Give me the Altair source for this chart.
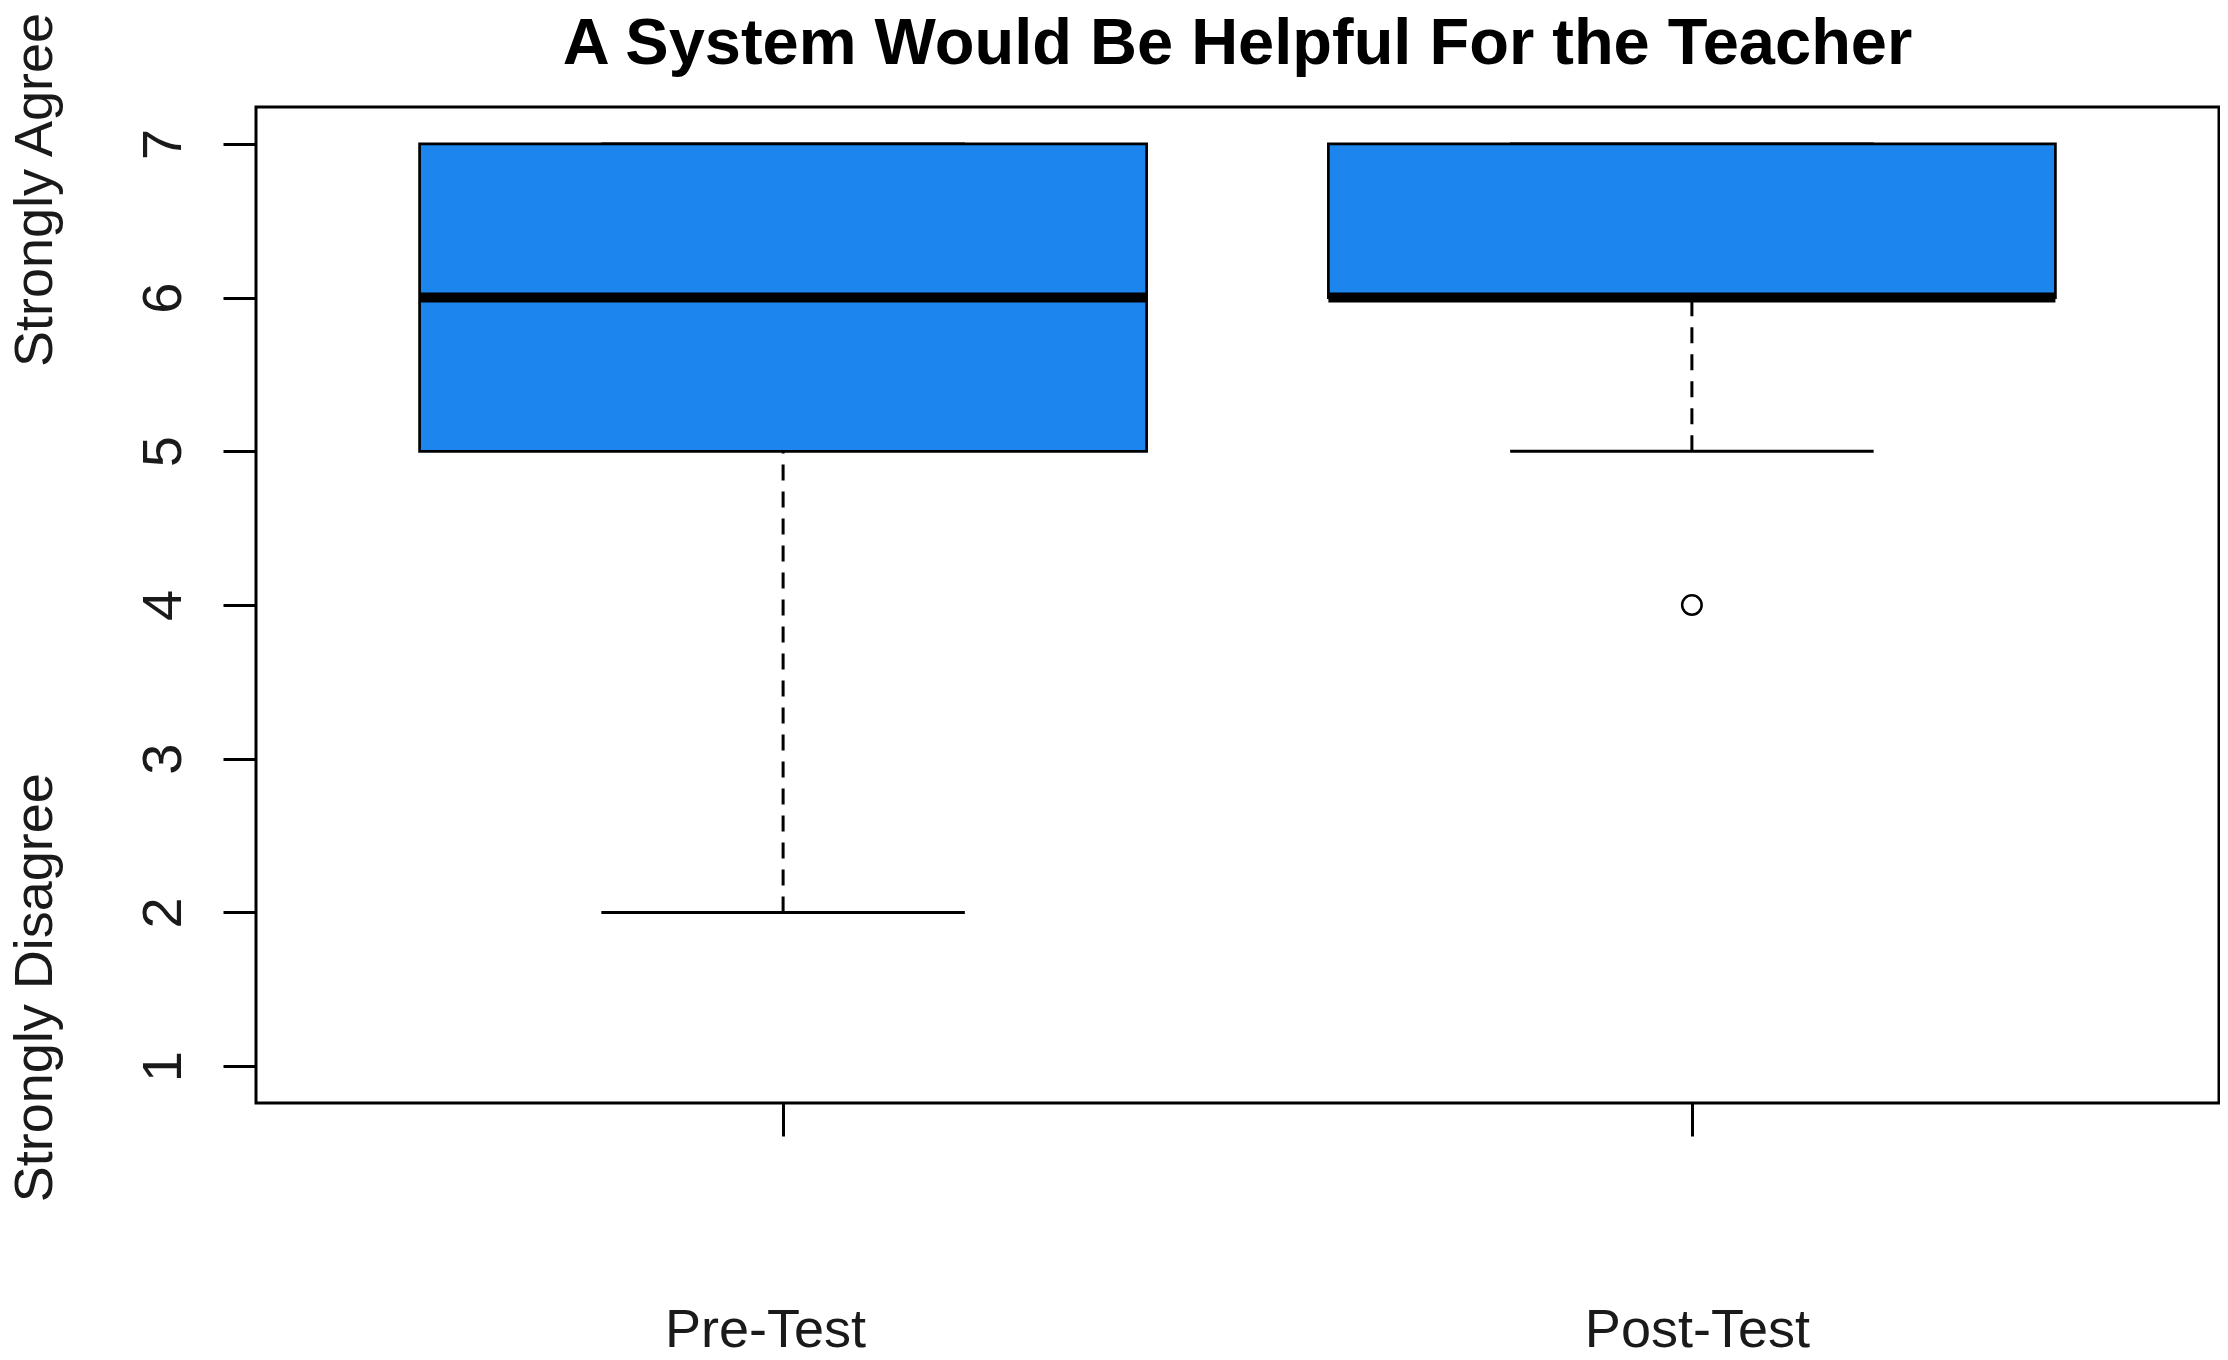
import altair as alt
import pandas as pd

# ---- data ----
title_text = "A System Would Be Helpful For the Teacher"
groups = ["Pre-Test", "Post-Test"]
positions = [1, 2]
q1 = [5, 6]
median = [6, 6]
q3 = [7, 7]
whisker_lo = [2, 5]
whisker_hi = [7, 7]

outlier_pos = [2]
outlier_val = [4]

side_labels = ["Strongly Agree", "Strongly Disagree"]
side_label_y = [6.70, 1.51]
side_label_x = [0.196, 0.196]

title_x = [1.5]
title_y = [7.517]

y_ticks = [1, 2, 3, 4, 5, 6, 7]

# ---- tables ----
boxes = pd.DataFrame({
    "group": groups, "pos": positions, "q1": q1, "med": median,
    "q3": q3, "lo": whisker_lo, "hi": whisker_hi,
})
outliers = pd.DataFrame({"pos": outlier_pos, "val": outlier_val})
sides = pd.DataFrame({"text": side_labels, "y": side_label_y, "x": side_label_x})
titles = pd.DataFrame({"text": [title_text], "x": title_x, "y": title_y})

FONT = "Liberation Sans"
BOX_HALF = 0.4
CAP_HALF = 0.2

label_expr = "[" + ",".join("'" + g + "'" for g in groups) + "][datum.value - 1]"

xscale = alt.Scale(domain=[0.42, 2.58], nice=False, zero=False)
yscale = alt.Scale(domain=[0.76, 7.24], nice=False, zero=False)

x_axis = alt.Axis(
    values=positions, labelExpr=label_expr, grid=False, domain=False,
    ticks=True, tickSize=33, tickWidth=3, tickColor="black",
    labelFontSize=54, labelFont=FONT, labelColor="#1a1a1a",
    labelPadding=210, labelBaseline="alphabetic", labelAlign="center",
    labelLimit=1000,
    labelOffset={"condition": {"test": "datum.value == 1", "value": -18}, "value": 5},
)
y_axis = alt.Axis(
    values=y_ticks, format="d", grid=False, domain=False, ticks=True, tickSize=33,
    tickWidth=3, tickColor="black", labelFontSize=56, labelFont=FONT,
    labelColor="#1a1a1a", labelAngle=270, labelAlign="center",
    labelBaseline="alphabetic", labelPadding=43, labelLimit=1000,
)

base = alt.Chart(boxes).transform_calculate(
    left=f"datum.pos - {BOX_HALF}", right=f"datum.pos + {BOX_HALF}",
    capl=f"datum.pos - {CAP_HALF}", capr=f"datum.pos + {CAP_HALF}",
)

whisk_low = base.mark_rule(color="black", strokeWidth=3, strokeDash=[16, 11]).encode(
    x=alt.X("pos:Q", scale=xscale, axis=x_axis, title=None),
    y=alt.Y("lo:Q", scale=yscale, axis=y_axis, title=None),
    y2="q1:Q",
)
whisk_high = base.mark_rule(color="black", strokeWidth=3, strokeDash=[16, 11]).encode(
    x="pos:Q", y="q3:Q", y2="hi:Q",
)
cap_low = base.mark_rule(color="black", strokeWidth=3).encode(
    x="capl:Q", x2="capr:Q", y="lo:Q",
)
cap_high = base.mark_rule(color="black", strokeWidth=3).encode(
    x="capl:Q", x2="capr:Q", y="hi:Q",
)
box = base.mark_rect(fill="#1C86EE", stroke="black", strokeWidth=2.7).encode(
    x="left:Q", x2="right:Q", y="q1:Q", y2="q3:Q",
)
med = base.mark_rule(color="black", strokeWidth=10).encode(
    x="left:Q", x2="right:Q", y="med:Q",
)
pts = alt.Chart(outliers).mark_point(
    shape="circle", filled=False, size=380, strokeWidth=2.5, color="black", opacity=1
).encode(x="pos:Q", y="val:Q")

side_text = alt.Chart(sides).mark_text(
    angle=270, align="center", baseline="alphabetic", fontSize=54,
    font=FONT, color="#1a1a1a",
).encode(x="x:Q", y="y:Q", text="text:N")

title_mark = alt.Chart(titles).mark_text(
    align="center", baseline="alphabetic", fontSize=65, fontWeight="bold",
    font=FONT, color="black",
).encode(x="x:Q", y="y:Q", text="text:N")

chart = alt.layer(
    whisk_low, whisk_high, cap_low, cap_high, box, med, pts, side_text, title_mark
).properties(
    width=1963,
    height=996,
    autosize=alt.AutoSizeParams(type="none"),
    padding={"left": 248, "top": 99, "right": 1, "bottom": 246},
).configure_view(
    stroke="black", strokeWidth=3, fill="white"
)

chart.save("out.html", embed_options={"renderer": "svg", "actions": False})
